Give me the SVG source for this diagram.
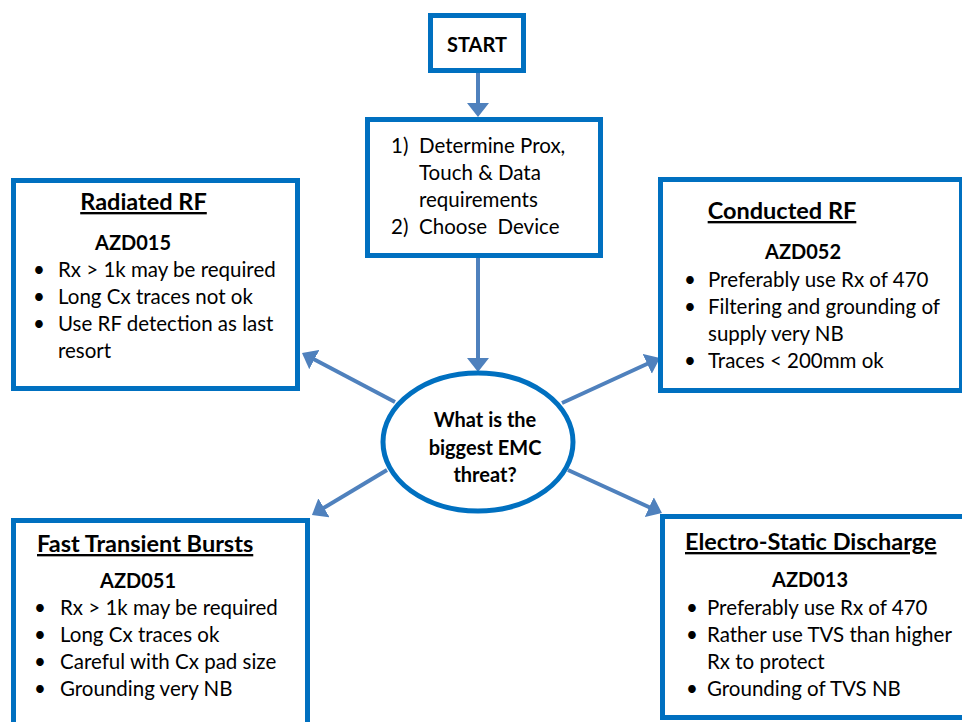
<svg xmlns="http://www.w3.org/2000/svg" width="962" height="722" viewBox="0 0 962 722">
<defs>
<style>
.box{fill:#fff;stroke:#0070C0;stroke-width:5}
.con{stroke:#4F81BD;stroke-width:4;fill:none;marker-end:url(#ah)}
text{font-family:Lato,"Liberation Sans",sans-serif;fill:#000}
.t{font-size:20.5px}
.b{font-size:20px;font-weight:bold}
.h{font-size:23.5px;font-weight:bold;text-decoration:underline}
.c{text-anchor:middle}
</style>
<marker id="ah" markerUnits="userSpaceOnUse" markerWidth="14" markerHeight="22" refX="8" refY="11" orient="auto" viewBox="0 0 14 22">
<path d="M0,0 L14,11 L0,22 z" fill="#4F81BD"/>
</marker>
</defs>
<rect width="962" height="722" fill="#fff"/>
<g id="connectors">
<line class="con" x1="478" y1="73" x2="478" y2="111"/>
<line class="con" x1="478" y1="258" x2="478" y2="366"/>
<line class="con" x1="395" y1="402" x2="307.3" y2="355.8"/>
<line class="con" x1="562" y1="403" x2="654.5" y2="360.5"/>
<line class="con" x1="387" y1="470" x2="317.1" y2="511.9"/>
<line class="con" x1="568" y1="470" x2="656.5" y2="510.5"/>
</g>
<g id="start">
<rect class="box" x="430.5" y="15.5" width="93" height="55"/>
<text class="b c" x="477" y="52">START</text>
</g>
<g id="process">
<rect class="box" x="367.5" y="119.5" width="233" height="136"/>
<text class="t" x="391" y="153">1)</text>
<text class="t" x="419" y="153">Determine Prox,</text>
<text class="t" x="419" y="180">Touch &amp; Data</text>
<text class="t" x="419" y="207">requirements</text>
<text class="t" x="391" y="234">2)</text>
<text class="t" x="419" y="234">Choose&#160; Device</text>
</g>
<g id="decision">
<ellipse class="box" cx="478" cy="442" rx="95" ry="69"/>
<text class="b c" x="485" y="427">What is the</text>
<text class="b c" x="485" y="455">biggest EMC</text>
<text class="b c" x="485" y="482">threat?</text>
</g>
<g id="radiated">
<rect class="box" x="13.5" y="180.5" width="284" height="208"/>
<text class="h c" x="143.5" y="210">Radiated RF</text>
<text class="b" x="95" y="250">AZD015</text>
<text class="t" x="33" y="277">•</text>
<text class="t" x="58" y="277">Rx &gt; 1k may be required</text>
<text class="t" x="33" y="304">•</text>
<text class="t" x="58" y="304">Long Cx traces not ok</text>
<text class="t" x="33" y="331">•</text>
<text class="t" x="58" y="331">Use RF detection as last</text>
<text class="t" x="58" y="358">resort</text>
</g>
<g id="conducted">
<rect class="box" x="660.5" y="179.5" width="301" height="211"/>
<text class="h c" x="782" y="219">Conducted RF</text>
<text class="b" x="765" y="259">AZD052</text>
<text class="t" x="684" y="287">•</text>
<text class="t" x="708" y="287">Preferably use Rx of 470</text>
<text class="t" x="684" y="314">•</text>
<text class="t" x="708" y="314">Filtering and grounding of</text>
<text class="t" x="708" y="341">supply very NB</text>
<text class="t" x="684" y="368">•</text>
<text class="t" x="708" y="368">Traces &lt; 200mm ok</text>
</g>
<g id="fast-transient">
<rect class="box" x="13.5" y="520.5" width="294" height="220"/>
<text class="h" x="37" y="552">Fast Transient Bursts</text>
<text class="b" x="100" y="588">AZD051</text>
<text class="t" x="34" y="615">•</text>
<text class="t" x="60" y="615">Rx &gt; 1k may be required</text>
<text class="t" x="34" y="642">•</text>
<text class="t" x="60" y="642">Long Cx traces ok</text>
<text class="t" x="34" y="669">•</text>
<text class="t" x="60" y="669">Careful with Cx pad size</text>
<text class="t" x="34" y="696">•</text>
<text class="t" x="60" y="696">Grounding very NB</text>
</g>
<g id="esd">
<rect class="box" x="662.5" y="516.5" width="320" height="201"/>
<text class="h" x="685" y="550">Electro-Static Discharge</text>
<text class="b" x="772" y="587">AZD013</text>
<text class="t" x="686" y="615">•</text>
<text class="t" x="707" y="615">Preferably use Rx of 470</text>
<text class="t" x="686" y="642">•</text>
<text class="t" x="707" y="642">Rather use TVS than higher</text>
<text class="t" x="707" y="669">Rx to protect</text>
<text class="t" x="686" y="696">•</text>
<text class="t" x="707" y="696">Grounding of TVS NB</text>
</g>
</svg>
